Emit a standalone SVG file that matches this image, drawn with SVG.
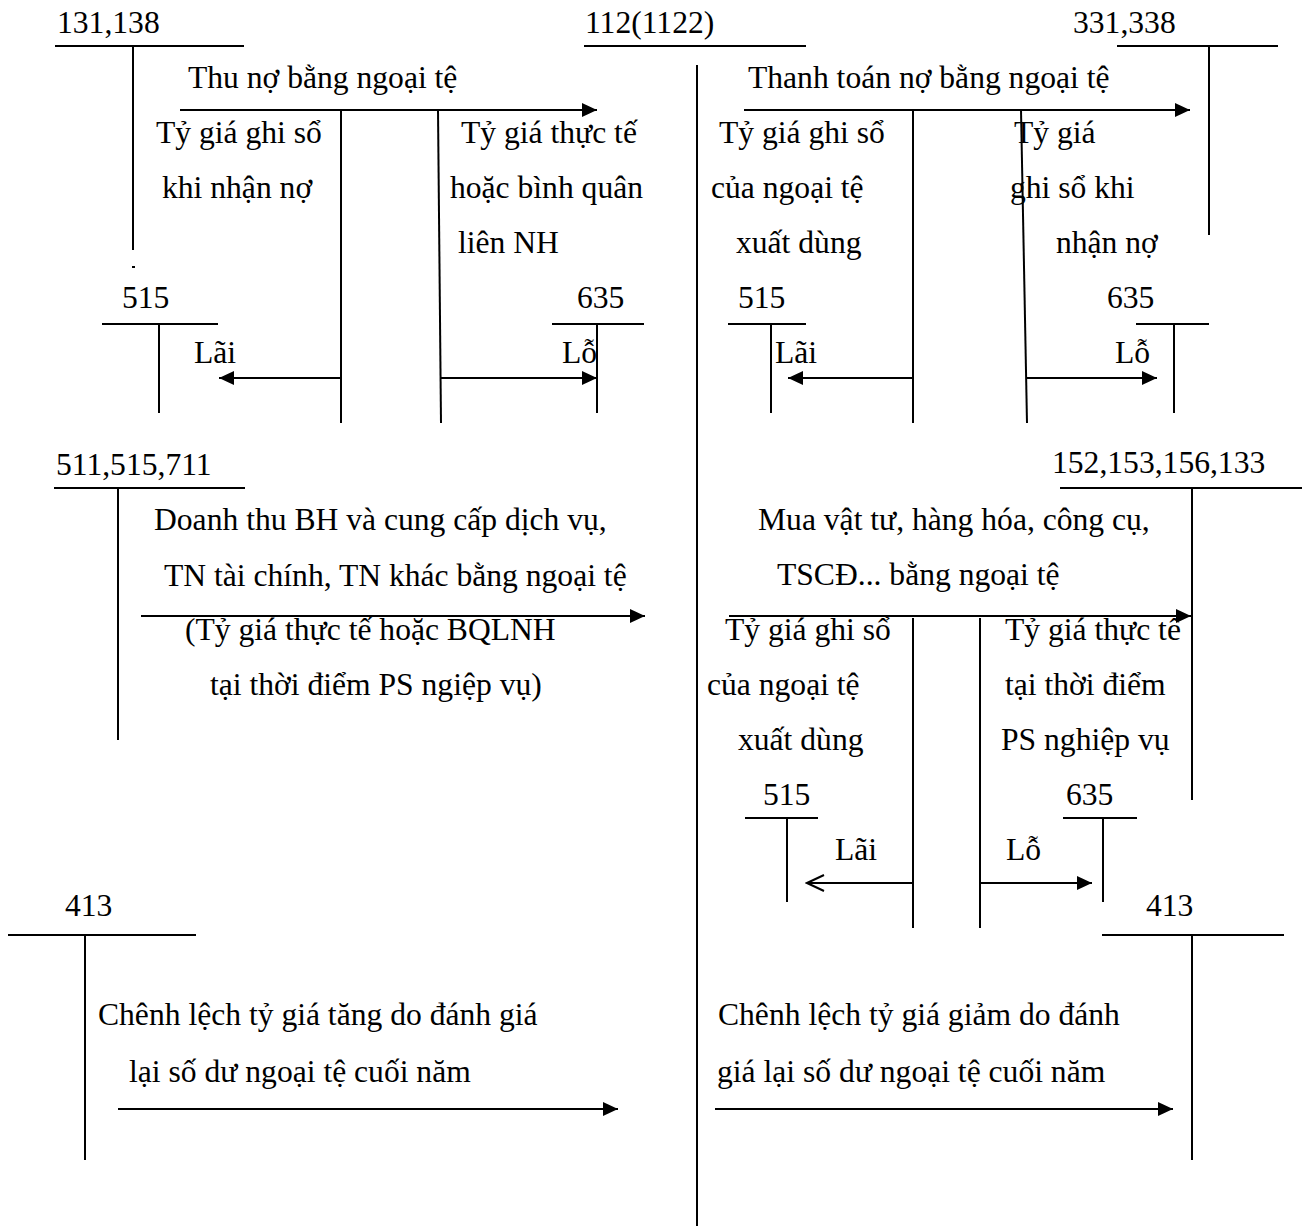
<svg xmlns="http://www.w3.org/2000/svg" width="1307" height="1226" viewBox="0 0 1307 1226">
<style>
text{font-family:"Liberation Serif","Times New Roman",serif;font-size:31.6px;fill:#000}
line,polyline{stroke:#000;stroke-width:2;fill:none}
.arr{marker-end:url(#ah)}
.open{marker-end:url(#ao)}
</style>
<defs>
<marker id="ah" markerUnits="userSpaceOnUse" markerWidth="16" markerHeight="14" refX="15" refY="7" orient="auto"><path d="M0,0 L15,7 L0,14 z" fill="#000"/></marker>
<marker id="ao" markerUnits="userSpaceOnUse" markerWidth="20" markerHeight="20" refX="18" refY="9" orient="auto"><path d="M1,1 L18,9 L1,17" fill="none" stroke="#000" stroke-width="2"/></marker>
</defs>
<rect width="1307" height="1226" fill="#fff"/>

<g id="acc-131-138">
<text x="57" y="33">131,138</text>
<line x1="55" y1="46" x2="244" y2="46"/>
<line x1="133" y1="46" x2="133" y2="250"/>
<line x1="132" y1="267" x2="135" y2="267"/>
</g>
<g id="acc-112">
<text x="585" y="33">112(1122)</text>
<line x1="584" y1="46" x2="806" y2="46"/>
<line x1="697" y1="65" x2="697" y2="1226"/>
</g>
<g id="acc-331-338">
<text x="1073" y="33">331,338</text>
<line x1="1117" y1="46" x2="1278" y2="46"/>
<line x1="1209" y1="46" x2="1209" y2="235"/>
</g>
<g id="acc-515-a">
<text x="122" y="308">515</text>
<line x1="102" y1="324" x2="218" y2="324"/>
<line x1="159" y1="324" x2="159" y2="413"/>
</g>
<g id="acc-635-a">
<text x="577" y="308">635</text>
<line x1="552" y1="324" x2="644" y2="324"/>
<line x1="597" y1="324" x2="597" y2="413"/>
</g>
<g id="acc-515-b">
<text x="738" y="308">515</text>
<line x1="728" y1="324" x2="806" y2="324"/>
<line x1="771" y1="324" x2="771" y2="413"/>
</g>
<g id="acc-635-b">
<text x="1107" y="308">635</text>
<line x1="1136" y1="324" x2="1209" y2="324"/>
<line x1="1174" y1="324" x2="1174" y2="413"/>
</g>
<g id="acc-511-515-711">
<text x="56" y="475">511,515,711</text>
<line x1="54" y1="488" x2="245" y2="488"/>
<line x1="118" y1="488" x2="118" y2="740"/>
</g>
<g id="acc-152-153-156-133">
<text x="1052" y="473">152,153,156,133</text>
<line x1="1060" y1="488" x2="1302" y2="488"/>
<line x1="1192" y1="488" x2="1192" y2="800"/>
</g>
<g id="acc-515-c">
<text x="763" y="805">515</text>
<line x1="745" y1="818" x2="818" y2="818"/>
<line x1="787" y1="818" x2="787" y2="902"/>
</g>
<g id="acc-635-c">
<text x="1066" y="805">635</text>
<line x1="1063" y1="818" x2="1137" y2="818"/>
<line x1="1103" y1="818" x2="1103" y2="902"/>
</g>
<g id="acc-413-left">
<text x="65" y="916">413</text>
<line x1="8" y1="935" x2="196" y2="935"/>
<line x1="85" y1="935" x2="85" y2="1160"/>
</g>
<g id="acc-413-right">
<text x="1146" y="916">413</text>
<line x1="1102" y1="935" x2="1284" y2="935"/>
<line x1="1192" y1="935" x2="1192" y2="1160"/>
</g>

<g id="connectors">
<line class="arr" x1="180" y1="110" x2="597" y2="110"/>
<line x1="341" y1="110" x2="341" y2="423"/>
<line x1="438" y1="110" x2="441" y2="423"/>
<line class="arr" x1="341" y1="378" x2="219" y2="378"/>
<line class="arr" x1="441" y1="378" x2="597" y2="378"/>

<line class="arr" x1="744" y1="110" x2="1190" y2="110"/>
<line x1="913" y1="110" x2="913" y2="423"/>
<line x1="1021" y1="110" x2="1027" y2="423"/>
<line class="arr" x1="913" y1="378" x2="788" y2="378"/>
<line class="arr" x1="1027" y1="378" x2="1157" y2="378"/>

<line class="arr" x1="141" y1="616" x2="645" y2="616"/>

<line class="arr" x1="729" y1="616" x2="1191" y2="616"/>
<line x1="913" y1="618" x2="913" y2="928"/>
<line x1="980" y1="618" x2="980" y2="928"/>
<line class="open" x1="913" y1="883" x2="807" y2="883"/>
<line class="arr" x1="980" y1="883" x2="1092" y2="883"/>

<line class="arr" x1="118" y1="1109" x2="618" y2="1109"/>
<line class="arr" x1="715" y1="1109" x2="1173" y2="1109"/>
</g>

<g id="labels">
<text x="188" y="88">Thu nợ bằng ngoại tệ</text>
<text x="156" y="143">Tỷ giá ghi sổ</text>
<text x="162" y="198">khi nhận nợ</text>
<text x="461" y="143">Tỷ giá thực tế</text>
<text x="450" y="198">hoặc bình quân</text>
<text x="458" y="253">liên NH</text>
<text x="194" y="363">Lãi</text>
<text x="562" y="363">Lỗ</text>

<text x="748" y="88">Thanh toán nợ bằng ngoại tệ</text>
<text x="719" y="143">Tỷ giá ghi sổ</text>
<text x="711" y="198">của ngoại tệ</text>
<text x="736" y="253">xuất dùng</text>
<text x="1014" y="143">Tỷ giá</text>
<text x="1010" y="198">ghi sổ khi</text>
<text x="1056" y="253">nhận nợ</text>
<text x="775" y="363">Lãi</text>
<text x="1115" y="363">Lỗ</text>

<text x="154" y="530">Doanh thu BH và cung cấp dịch vụ,</text>
<text x="164" y="586">TN tài chính, TN khác bằng ngoại tệ</text>
<text x="185" y="640">(Tỷ giá thực tế hoặc BQLNH</text>
<text x="210" y="695">tại thời điểm PS ngiệp vụ)</text>

<text x="758" y="530">Mua vật tư, hàng hóa, công cụ,</text>
<text x="777" y="585">TSCĐ... bằng ngoại tệ</text>
<text x="725" y="640">Tỷ giá ghi sổ</text>
<text x="707" y="695">của ngoại tệ</text>
<text x="738" y="750">xuất dùng</text>
<text x="1005" y="640">Tỷ giá thực tế</text>
<text x="1005" y="695">tại thời điểm</text>
<text x="1001" y="750">PS nghiệp vụ</text>
<text x="835" y="860">Lãi</text>
<text x="1006" y="860">Lỗ</text>

<text x="98" y="1025">Chênh lệch tỷ giá tăng do đánh giá</text>
<text x="129" y="1082">lại số dư ngoại tệ cuối năm</text>
<text x="718" y="1025">Chênh lệch tỷ giá giảm do đánh</text>
<text x="717" y="1082">giá lại số dư ngoại tệ cuối năm</text>
</g>
</svg>
